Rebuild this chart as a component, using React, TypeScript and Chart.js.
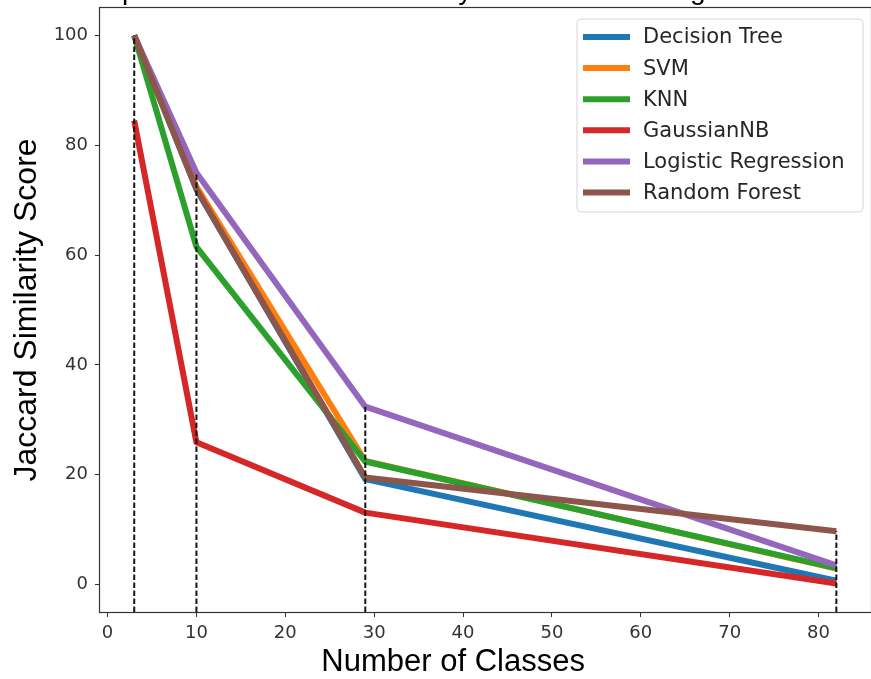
import React, { useEffect, useRef } from "react";
import { Chart, registerables } from "chart.js";

Chart.register(...registerables);

// ---- data ----
const classCounts = [3, 10, 29, 82];
const seriesNames = [
  "Decision Tree",
  "SVM",
  "KNN",
  "GaussianNB",
  "Logistic Regression",
  "Random Forest",
];
const decisionTree = [100, 72, 19.2, 0.7];
const svm = [100, 72.5, 22.5, 2.9];
const knn = [100, 61.5, 22.4, 3];
const gaussianNB = [84.5, 25.9, 13.1, 0.2];
const logisticRegression = [100, 75, 32.4, 3.5];
const randomForest = [100, 72, 19.5, 9.7];
const seriesColors = ["#1f77b4", "#ff7f0e", "#2ca02c", "#d62728", "#9467bd", "#8c564b"];
const xTickStep = 10;
const yTickStep = 20;
const xRange = [-0.85, 85.9];
const yRange = [-5, 105];
const titleText = "Comparison of Jaccard Similarity Score with ML Algorithms";
const xLabel = "Number of Classes";
const yLabel = "Jaccard Similarity Score";

const allSeries = [decisionTree, svm, knn, gaussianNB, logisticRegression, randomForest];

export default function App() {
  const canvasRef = useRef<HTMLCanvasElement | null>(null);

  useEffect(() => {
    const canvas = canvasRef.current;
    if (!canvas) return;

    const lineDatasets = allSeries.map((vals, i) => ({
      label: seriesNames[i],
      data: classCounts.map((x, j) => ({ x, y: vals[j] })),
      borderColor: seriesColors[i],
      backgroundColor: seriesColors[i],
      borderWidth: 6,
      pointRadius: 0,
      pointHoverRadius: 0,
      tension: 0,
      fill: false,
      borderJoinStyle: "round" as const,
      borderCapStyle: "butt" as const,
      order: allSeries.length - i,
    }));

    const dashedDatasets = classCounts.map((x, j) => ({
      label: "",
      data: [
        { x, y: yRange[0] },
        { x, y: Math.max(...allSeries.map((s) => s[j])) },
      ],
      borderColor: "#151515",
      backgroundColor: "#151515",
      borderWidth: 2,
      borderDash: [5.5, 2.5],
      pointRadius: 0,
      pointHoverRadius: 0,
      tension: 0,
      fill: false,
      order: 0,
    }));

    const zeroPad = (s: any) => {
      s.paddingTop = 0;
      s.paddingBottom = 0;
      s.paddingLeft = 0;
      s.paddingRight = 0;
    };

    const decorPlugin = {
      id: "decor",
      afterDraw(chart: any) {
        const ctx = chart.ctx as CanvasRenderingContext2D;
        const { left, top, right, bottom } = chart.chartArea;
        ctx.save();

        // frame (spines)
        ctx.strokeStyle = "#333";
        ctx.lineWidth = 1.2;
        ctx.strokeRect(left - 0.5, top - 0.5, right - left + 1, bottom - top + 1);

        // title (mostly cropped above the top edge)
        ctx.fillStyle = "#000";
        ctx.font = '28px "Liberation Sans", Arial, sans-serif';
        ctx.textAlign = "left";
        ctx.textBaseline = "alphabetic";
        ctx.fillText(titleText, 63, -1);

        // x axis title
        ctx.font = '31px "Liberation Sans", Arial, sans-serif';
        ctx.textAlign = "center";
        ctx.textBaseline = "alphabetic";
        ctx.fillText(xLabel, left + (right - left) * 0.458, 671);

        // y axis title
        ctx.save();
        ctx.font = '32px "Liberation Sans", Arial, sans-serif';
        ctx.translate(27, (top + bottom) / 2);
        ctx.rotate(-Math.PI / 2);
        ctx.textAlign = "center";
        ctx.textBaseline = "middle";
        ctx.fillText(yLabel, 0, 0);
        ctx.restore();

        // legend
        const bx = right - 294;
        const by = top + 11;
        const bw = 286;
        const bh = 193;
        const r = 4;
        ctx.beginPath();
        ctx.moveTo(bx + r, by);
        ctx.lineTo(bx + bw - r, by);
        ctx.quadraticCurveTo(bx + bw, by, bx + bw, by + r);
        ctx.lineTo(bx + bw, by + bh - r);
        ctx.quadraticCurveTo(bx + bw, by + bh, bx + bw - r, by + bh);
        ctx.lineTo(bx + r, by + bh);
        ctx.quadraticCurveTo(bx, by + bh, bx, by + bh - r);
        ctx.lineTo(bx, by + r);
        ctx.quadraticCurveTo(bx, by, bx + r, by);
        ctx.closePath();
        ctx.fillStyle = "rgba(255,255,255,0.85)";
        ctx.fill();
        ctx.strokeStyle = "#d6d6d6";
        ctx.lineWidth = 1;
        ctx.stroke();

        ctx.font = '21px "DejaVu Sans", sans-serif';
        ctx.textAlign = "left";
        ctx.textBaseline = "middle";
        seriesNames.forEach((name, i) => {
          const yy = by + 18 + i * 31.1;
          ctx.strokeStyle = seriesColors[i];
          ctx.lineWidth = 6;
          ctx.lineCap = "butt";
          ctx.beginPath();
          ctx.moveTo(bx + 6, yy);
          ctx.lineTo(bx + 53, yy);
          ctx.stroke();
          ctx.fillStyle = "#262626";
          ctx.fillText(name, bx + 66, yy + 1);
        });

        ctx.restore();
      },
    };

    const chart = new Chart(canvas, {
      type: "line",
      data: { datasets: [...lineDatasets, ...dashedDatasets] as any },
      options: {
        responsive: false,
        animation: false,
        devicePixelRatio: 1,
        layout: { padding: { left: 0, top: 8, right: 0, bottom: 0 } },
        plugins: {
          legend: { display: false },
          tooltip: { enabled: false },
          title: { display: false },
        },
        scales: {
          x: {
            type: "linear",
            min: xRange[0],
            max: xRange[1],
            afterFit: (s: any) => {
              s.height = 67;
              zeroPad(s);
            },
            border: { display: false },
            grid: {
              display: true,
              drawOnChartArea: false,
              drawTicks: true,
              tickLength: 5,
              color: "#333",
              tickColor: "#333",
            },
            ticks: {
              stepSize: xTickStep,
              includeBounds: false,
              padding: 6,
              color: "#333",
              font: { family: "DejaVu Sans", size: 18 },
              maxRotation: 0,
              autoSkip: false,
            },
          },
          y: {
            type: "linear",
            min: yRange[0],
            max: yRange[1],
            afterFit: (s: any) => {
              s.width = 100;
              zeroPad(s);
            },
            border: { display: false },
            grid: {
              display: true,
              drawOnChartArea: false,
              drawTicks: true,
              tickLength: 5,
              color: "#333",
              tickColor: "#333",
            },
            ticks: {
              stepSize: yTickStep,
              includeBounds: false,
              padding: 7,
              color: "#333",
              font: { family: "DejaVu Sans", size: 18 },
              autoSkip: false,
            },
          },
        },
      },
      plugins: [decorPlugin],
    });

    return () => {
      chart.destroy();
    };
  }, []);

  return (
    <div style={{ position: "absolute", left: 0, top: 0, width: 871, height: 679, background: "#fff" }}>
      <canvas ref={canvasRef} width={871} height={679} style={{ display: "block" }} />
    </div>
  );
}
